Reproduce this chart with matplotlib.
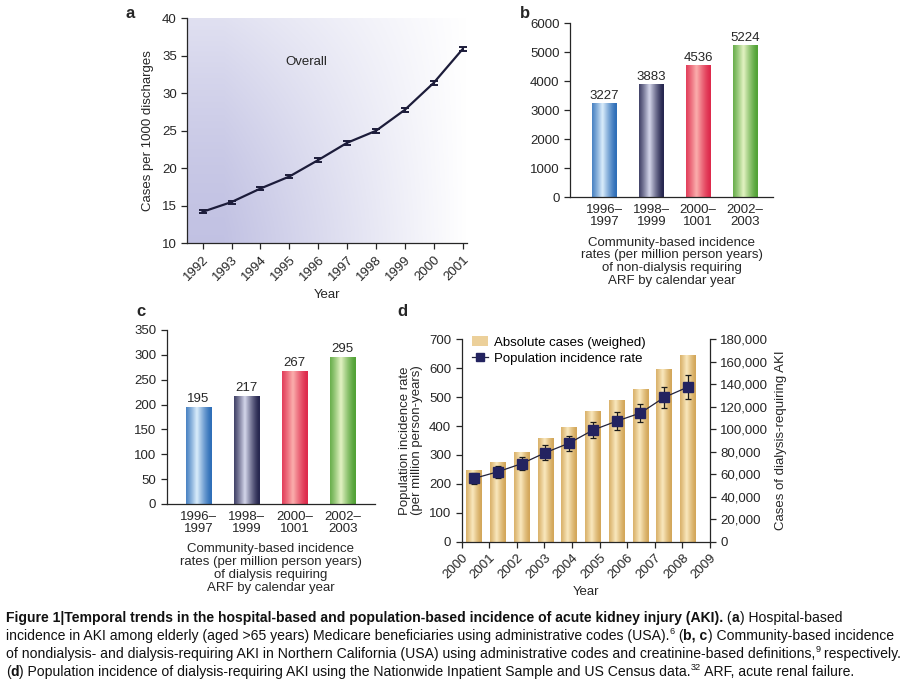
import numpy as np
import matplotlib
matplotlib.use("Agg")
import matplotlib.pyplot as plt
from matplotlib import font_manager
from matplotlib.patches import Patch
from matplotlib.lines import Line2D

# ---- data -------------------------------------------------------------
a_years = [1992, 1993, 1994, 1995, 1996, 1997, 1998, 1999, 2000, 2001]
a_rate = [14.2, 15.5, 17.3, 18.9, 21.1, 23.4, 25.0, 27.8, 31.4, 35.9]
a_err = [0.2, 0.2, 0.2, 0.25, 0.25, 0.25, 0.25, 0.25, 0.25, 0.25]

period_labels = ["1996–\n1997", "1998–\n1999", "2000–\n1001", "2002–\n2003"]
b_values = [3227, 3883, 4536, 5224]
c_values = [195, 217, 267, 295]

d_year_ticks = ["2000", "2001", "2002", "2003", "2004", "2005", "2006", "2007", "2008", "2009"]
d_cases = [64000, 71000, 79500, 92000, 102000, 116500, 126000, 135500, 153000, 166000]
d_rate = [219, 242, 270, 308, 341, 386, 417, 445, 499, 535]
d_rate_err = [20, 21, 23, 25, 26, 29, 30, 32, 37, 40]

# ---- style ------------------------------------------------------------
plt.rcParams["font.family"] = ["Liberation Sans", "DejaVu Sans"]
plt.rcParams["font.size"] = 9.5
INK = "#262626"
BAR_COLORS = [("#2f6fb8", "#dceefc"), ("#26264f", "#d6d8ec"),
              ("#de2a4c", "#fbb0ae"), ("#52a236", "#e4f3c4")]
GOLD = ("#d3a75a", "#fae9c0")

installed = {f.name for f in font_manager.fontManager.ttflist}
CAP_FONT = "Liberation Sans Narrow" if "Liberation Sans Narrow" in installed else "Liberation Sans"


def style_axes(ax):
    ax.spines[["top", "right"]].set_visible(False)
    for s in ax.spines.values():
        s.set_color(INK); s.set_linewidth(0.9)
    ax.tick_params(direction="out", length=4, width=0.9, color=INK, labelcolor=INK, labelsize=9.5)


def grad_bar(ax, x, w, h, cols, z=2):
    """Cylinder-like bar: edge colour -> light centre -> edge colour."""
    edge = np.array(matplotlib.colors.to_rgb(cols[0]))
    mid = np.array(matplotlib.colors.to_rgb(cols[1]))
    t = np.linspace(0, 1, 64)
    f = np.clip(1 - np.abs(t - 0.42) / 0.55, 0, 1) ** 1.3
    img = edge[None, :] + (mid - edge)[None, :] * f[:, None]
    ax.imshow(img[None, :, :], extent=(x - w / 2, x + w / 2, 0, h), aspect="auto",
              interpolation="bicubic", zorder=z)


fig = plt.figure(figsize=(9.09, 6.94), dpi=100)
W, H = 909, 694


def axes_px(l, t, r, b):
    return fig.add_axes([l / W, 1 - b / H, (r - l) / W, (b - t) / H])


# ---- panel a ----------------------------------------------------------
ax = axes_px(187.3, 18.3, 466.7, 243.3)
style_axes(ax)
xx, yy = np.meshgrid(np.linspace(0, 1, 200), np.linspace(0, 1, 200))
amt = np.clip((1 - xx) * 1.15, 0, 1) ** 1.0 * (1 - 0.5 * yy ** 1.5)
lav = np.array([0.76, 0.76, 0.89])
bg = 1 - amt[..., None] * (1 - lav[None, None, :])
ax.imshow(bg, extent=[0, 1, 0, 1], transform=ax.transAxes, aspect="auto", origin="lower", zorder=0)
ax.errorbar(a_years, a_rate, yerr=a_err, color="#1c1c3a", lw=1.6, capsize=3, capthick=1.4,
            elinewidth=1.4, zorder=3)
ax.set_xlim(1991.47, 2001.14); ax.set_ylim(10, 40)
ax.set_xticks(a_years)
ax.set_xticklabels([str(y) for y in a_years], rotation=45, ha="right", rotation_mode="anchor")
ax.set_yticks(range(10, 41, 5))
ax.set_xlabel("Year", color=INK, labelpad=4)
ax.set_ylabel("Cases per 1000 discharges", color=INK, labelpad=6)
ax.text(1995.6, 34.2, "Overall", ha="center", va="center", color=INK)
fig.text(125 / W, 1 - 14 / H, "a", fontsize=12, fontweight="bold", va="center", color=INK)

# ---- panels b and c ---------------------------------------------------
def period_panel(box, values, ymax, ystep, xlim, xlabel, letter, lpos):
    ax = axes_px(*box)
    style_axes(ax)
    pos = np.arange(len(values))
    for i, v in enumerate(values):
        grad_bar(ax, pos[i], 0.53, v, BAR_COLORS[i])
        ax.text(pos[i], v + ymax * 0.012, f"{v}", ha="center", va="bottom", color=INK, fontsize=9.5)
    ax.set_xlim(*xlim); ax.set_ylim(0, ymax)
    ax.set_yticks(np.arange(0, ymax + 1, ystep))
    ax.set_xticks(pos); ax.set_xticklabels(period_labels, linespacing=1.0)
    ax.tick_params(axis="x", length=0, pad=5)
    ax.set_xlabel(xlabel, color=INK, linespacing=1.1, labelpad=6)
    fig.text(lpos[0] / W, 1 - lpos[1] / H, letter, fontsize=12, fontweight="bold", va="center", color=INK)


period_panel((570, 23.3, 773, 197.3), b_values, 6000, 1000, (-0.74, 3.6),
             "Community-based incidence\nrates (per million person years)\nof non-dialysis requiring\nARF by calendar year",
             "b", (520, 14))
period_panel((166.7, 330, 375, 504), c_values, 350, 50, (-0.66, 3.67),
             "Community-based incidence\nrates (per million person years)\nof dialysis requiring\nARF by calendar year",
             "c", (136, 311))

# ---- panel d ----------------------------------------------------------
axb = axes_px(461.7, 339.3, 710, 541.7)
axl = axb.twinx()
style_axes(axb)
axb.spines["right"].set_visible(True); axb.spines["left"].set_visible(False)
axb.yaxis.tick_right(); axb.yaxis.set_label_position("right")
xs = np.arange(len(d_cases))
for i, v in enumerate(d_cases):
    grad_bar(axb, xs[i], 0.66, v, GOLD)
axb.set_ylim(0, 180000)
axb.set_yticks(np.arange(0, 180001, 20000))
axb.yaxis.set_major_formatter(matplotlib.ticker.FuncFormatter(lambda v, p: f"{v:,.0f}"))
axb.set_ylabel("Cases of dialysis-requiring AKI", color=INK, labelpad=5)
xl = (-0.527, 9.93)
axb.set_xlim(*xl)
axb.set_xticks(np.linspace(xl[0], xl[1], len(d_year_ticks)))
axb.set_xticklabels(d_year_ticks, rotation=45, ha="right", rotation_mode="anchor")
axb.set_xlabel("Year", color=INK, labelpad=3)

axl.yaxis.tick_left(); axl.yaxis.set_label_position("left")
axl.spines[["top", "right", "bottom"]].set_visible(False)
axl.spines["left"].set_visible(True)
axl.spines["left"].set_color(INK); axl.spines["left"].set_linewidth(0.9)
axl.tick_params(direction="out", length=4, width=0.9, color=INK, labelcolor=INK, labelsize=9.5)
axl.errorbar(xs, d_rate, yerr=d_rate_err, color="#1a1a1a", lw=0, elinewidth=0.9, capsize=2.2,
             capthick=0.9, zorder=3)
axl.plot(xs, d_rate, color="#22223a", lw=0.9, marker="s", ms=7, mfc="#232360", mec="#232360", zorder=4)
axl.set_ylim(0, 700); axl.set_yticks(range(0, 701, 100))
axl.set_xlim(*xl)
axl.set_ylabel("Population incidence rate\n(per million person-years)", color=INK, labelpad=4, linespacing=1.1)
handles = [Patch(facecolor="#ecd09a", edgecolor="none"),
           Line2D([], [], color="#22223a", lw=0.9, marker="s", ms=6, mfc="#232360", mec="#232360")]
axl.legend(handles, ["Absolute cases (weighed)", "Population incidence rate"], loc="upper left",
           bbox_to_anchor=(0.02, 1.04), frameon=False, fontsize=9.5, handlelength=1.2,
           handletextpad=0.5, labelspacing=0.3, borderaxespad=0)
fig.text(397 / W, 1 - 311 / H, "d", fontsize=12, fontweight="bold", va="center", color=INK)

# ---- caption ----------------------------------------------------------
renderer = fig.canvas.get_renderer()
caption = [
    ([("Figure 1|Temporal trends in the hospital-based and population-based incidence of acute kidney injury (AKI).", True, False),
      (" (", False, False), ("a", True, False), (") Hospital-based", False, False)], 618),
    ([("incidence in AKI among elderly (aged >65 years) Medicare beneficiaries using administrative codes (USA).", False, False),
      ("6", False, True), (" (", False, False), ("b, c", True, False), (") Community-based incidence", False, False)], 636),
    ([("of nondialysis- and dialysis-requiring AKI in Northern California (USA) using administrative codes and creatinine-based definitions,", False, False),
      ("9", False, True), (" respectively.", False, False)], 654),
    ([("(", False, False), ("d", True, False),
      (") Population incidence of dialysis-requiring AKI using the Nationwide Inpatient Sample and US Census data.", False, False),
      ("32", False, True), (" ARF, acute renal failure.", False, False)], 672),
]


def cap_line(segs, y, size, keep=True):
    x = 6
    made = []
    for txt, bold, sup in segs:
        t = fig.text(x / W, 1 - (y - (5 if sup else 0)) / H, txt, fontsize=size * (0.65 if sup else 1),
                     fontweight="bold" if bold else "normal", family=[CAP_FONT, "DejaVu Sans"],
                     va="center", ha="left", color="#111111")
        x += t.get_window_extent(renderer).width * W / fig.bbox.width
        made.append(t)
    if not keep:
        for t in made:
            t.remove()
    return x


widest = max(cap_line(s, y, 10.5, keep=False) for s, y in caption) - 6
cap_size = 10.5 * 896 / widest
for segs, y in caption:
    cap_line(segs, y, cap_size)

fig.savefig("out.png", dpi=100, facecolor="white")
